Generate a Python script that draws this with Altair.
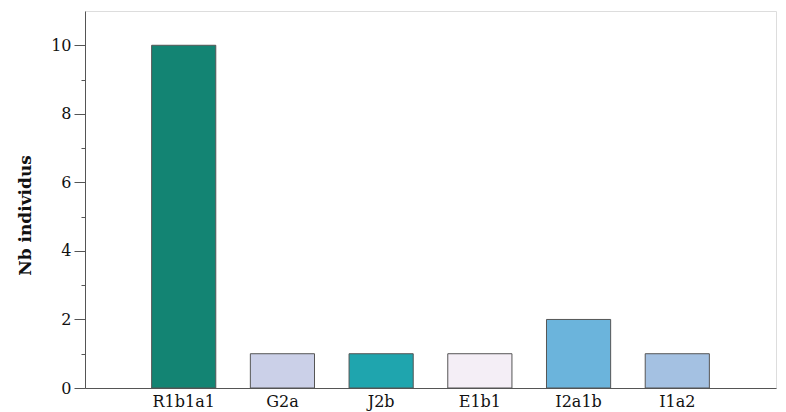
import altair as alt
import pandas as pd

categories = ["R1b1a1", "G2a", "J2b", "E1b1", "I2a1b", "I1a2"]
counts = [10, 1, 1, 1, 2, 1]
colors = ["#138473", "#cbd0e8", "#1fa5ae", "#f4eef6", "#6bb4dc", "#a4c1e2"]
y_ticks = [0, 1, 2, 3, 4, 5, 6, 7, 8, 9, 10]

df = pd.DataFrame({"cat": categories, "n": counts})

FONT = "DejaVu Serif"

chart = alt.Chart(df).mark_bar(stroke="#555555", strokeWidth=1).encode(
    x=alt.X("cat:N", sort=categories,
            scale=alt.Scale(paddingInner=0.35, paddingOuter=0.675),
            axis=alt.Axis(title=None, ticks=False, labelAngle=0, labelFont=FONT,
                          labelFontSize=16, labelColor="#111111", labelPadding=5,
                          domainColor="#555555")),
    y=alt.Y("n:Q", scale=alt.Scale(domain=[0, 11], nice=False),
            axis=alt.Axis(title="Nb individus", values=y_ticks, grid=False,
                          labelExpr="datum.value % 2 == 1 ? '' : datum.label",
                          tickSize={"condition": {"test": "datum.value % 2 == 1", "value": 4}, "value": 11},
                          tickColor="#555555", domainColor="#555555",
                          labelFont=FONT, labelFontSize=16, labelColor="#111111",
                          labelPadding=3,
                          titleFont=FONT, titleFontSize=17, titleFontWeight="bold",
                          titleColor="#111111", titlePadding=16, titleY=204)),
    color=alt.Color("cat:N", sort=categories,
                    scale=alt.Scale(domain=categories, range=colors), legend=None),
).properties(
    width=691, height=377,
    autosize=alt.AutoSizeParams(type="none"),
    padding={"left": 85, "top": 11, "right": 10, "bottom": 24},
).configure_view(stroke="#555555", strokeWidth=1).configure(background="white")

chart.save("out.html", embed_options={"renderer": "svg", "actions": False})
